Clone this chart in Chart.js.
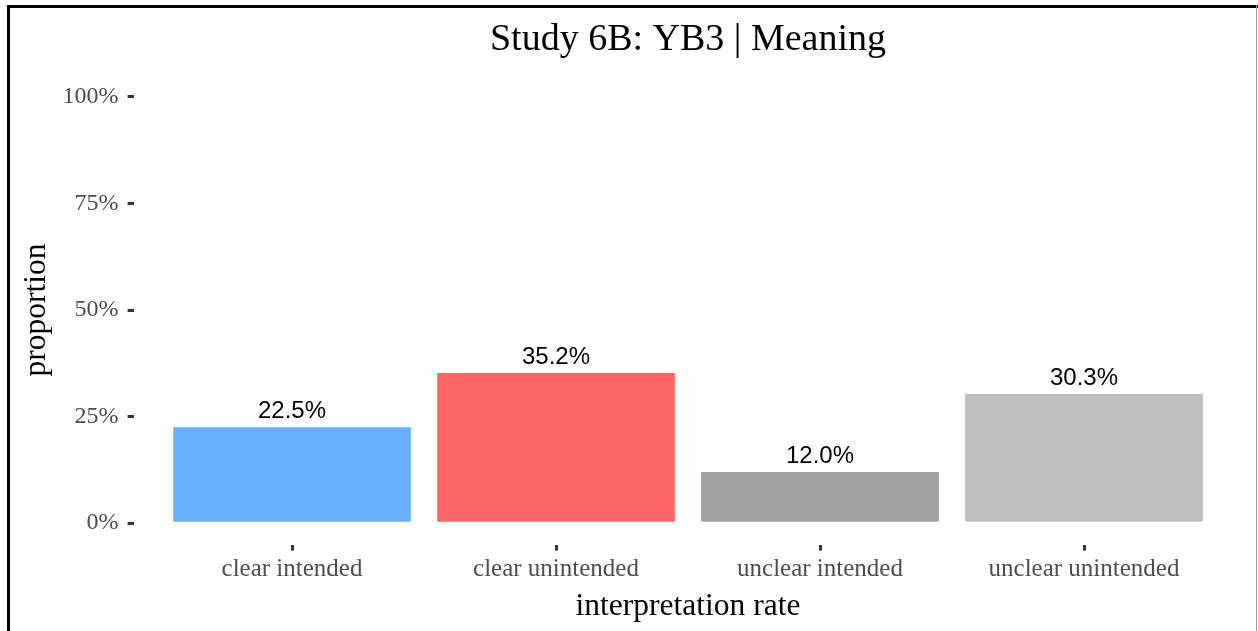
<!DOCTYPE html>
<html>
<head>
<meta charset="utf-8">
<title>Study 6B: YB3 | Meaning</title>
<script src="https://cdn.jsdelivr.net/npm/chart.js@4/dist/chart.umd.min.js"></script>
<style>
  html, body { margin: 0; padding: 0; background: #fff; }
  #wrap { position: relative; width: 1258px; height: 631px; overflow: hidden; }
  #chart { position: absolute; left: 0; top: 0; }
  .edge { position: absolute; }
  #edgeTop { left: 7px; top: 5px; width: 1251px; height: 3px; background: #000; }
  #edgeLeft { left: 7px; top: 5px; width: 3px; height: 626px; background: #000; }
  #edgeRight { left: 1256px; top: 5px; width: 1px; height: 626px; background: #9a9a9a; }
</style>
</head>
<body>
<div id="wrap">
  <canvas id="chart" width="1258" height="631"></canvas>
  <div class="edge" id="edgeTop"></div>
  <div class="edge" id="edgeLeft"></div>
  <div class="edge" id="edgeRight"></div>
</div>
<script>
const chartTitle = 'Study 6B: YB3 | Meaning';
const categories = ['clear intended', 'clear unintended', 'unclear intended', 'unclear unintended'];
const proportions = [22.5, 35.2, 12.0, 30.3];
const barColors = ['#66b0ff', '#ff6666', '#a0a0a0', '#bebebe'];
const yTicks = [0, 25, 50, 75, 100];

const SERIF = '"Liberation Serif", "Times New Roman", serif';
const SANS = '"Liberation Sans", Arial, sans-serif';

// title centred over the panel, like ggplot does
const panelTitle = {
  id: 'panelTitle',
  afterDraw(chart) {
    const { ctx, chartArea } = chart;
    ctx.save();
    ctx.font = `38px ${SERIF}`;
    ctx.fillStyle = '#000';
    ctx.textAlign = 'center';
    ctx.textBaseline = 'alphabetic';
    ctx.fillText(chartTitle, (chartArea.left + chartArea.right) / 2, 50);
    ctx.restore();
  }
};

const barLabels = {
  id: 'barLabels',
  afterDatasetsDraw(chart) {
    const { ctx } = chart;
    const meta = chart.getDatasetMeta(0);
    ctx.save();
    ctx.font = `24px ${SANS}`;
    ctx.fillStyle = '#000';
    ctx.textAlign = 'center';
    ctx.textBaseline = 'alphabetic';
    meta.data.forEach((bar, i) => {
      ctx.fillText(`${proportions[i].toFixed(1)}%`, bar.x, bar.y - 9);
    });
    ctx.restore();
  }
};

new Chart(document.getElementById('chart'), {
  type: 'bar',
  data: {
    datasets: [
      {
        data: proportions.map((value, i) => ({ x: i + 1, y: value })),
        backgroundColor: barColors,
        borderWidth: 0,
        categoryPercentage: 1,
        barPercentage: 0.9
      }
    ]
  },
  options: {
    responsive: false,
    animation: false,
    events: [],
    layout: {
      padding: { top: 75.5, right: 15.6, left: 0, bottom: 0 }
    },
    plugins: {
      legend: { display: false },
      tooltip: { enabled: false }
    },
    scales: {
      x: {
        type: 'linear',
        min: 0.4,
        max: 4.6,
        offset: false,
        afterBuildTicks: (axis) => {
          axis.ticks = categories.map((c, i) => ({ value: i + 1 }));
        },
        afterFit: (axis) => {
          axis.height = 86.5;
        },
        border: { display: false },
        grid: {
          offset: false,
          drawOnChartArea: false,
          drawTicks: true,
          tickLength: 6,
          lineWidth: 3,
          color: '#333333'
        },
        ticks: {
          padding: 4,
          color: '#4d4d4d',
          font: { family: SERIF, size: 25 },
          maxRotation: 0,
          autoSkip: false,
          callback: (value) => categories[value - 1]
        },
        title: {
          display: true,
          text: 'interpretation rate',
          color: '#000',
          font: { family: SERIF, size: 31.5 },
          padding: { top: 0, bottom: 5 }
        }
      },
      y: {
        min: -5,
        max: 105,
        afterBuildTicks: (axis) => {
          axis.ticks = yTicks.map((v) => ({ value: v }));
        },
        afterFit: (axis) => {
          axis.width = 133.6;
        },
        border: { display: false },
        grid: {
          drawOnChartArea: false,
          drawTicks: true,
          tickLength: 6,
          lineWidth: 3,
          color: '#333333'
        },
        ticks: {
          padding: 9,
          color: '#4d4d4d',
          font: { family: SERIF, size: 24 },
          callback: (value) => `${value}%`
        },
        title: {
          display: true,
          text: 'proportion',
          color: '#000',
          font: { family: SERIF, size: 31.5 },
          padding: { top: 18, bottom: 0 }
        }
      }
    }
  },
  plugins: [panelTitle, barLabels]
});
</script>
</body>
</html>
